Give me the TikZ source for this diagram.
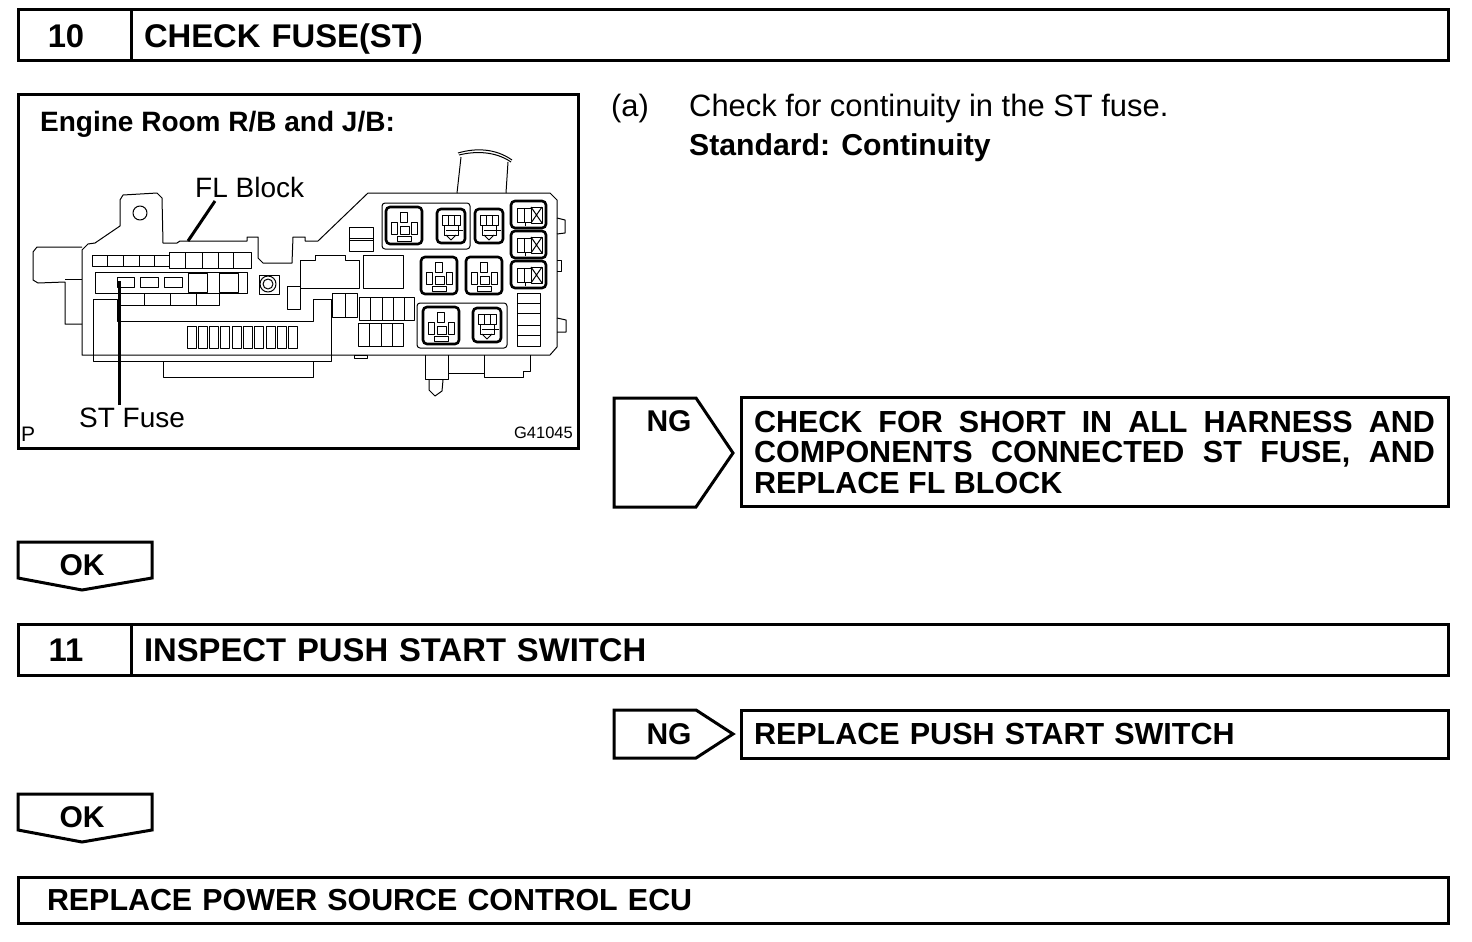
\documentclass[tikz,border=0pt]{standalone}
\usepackage{fontspec}
\setmainfont{Liberation Sans}
\usetikzlibrary{positioning, calc}

\begin{document}
\begin{tikzpicture}[
  x=1pt, y=-1pt,
  hdbox/.style={draw, line width=3pt, minimum height=51pt, inner ysep=0pt, text height=24pt, text depth=0pt, font=\fontsize{32.8}{35}\selectfont\bfseries},
  titlebox/.style={hdbox, inner xsep=13pt, text width=1291pt, align=left},
  actbox/.style={draw, line width=3pt, inner xsep=13pt, inner ysep=0pt, text width=681pt, font=\fontsize{30.5}{30.5}\selectfont\bfseries},
  tagtext/.style={font=\fontsize{30}{32}\selectfont\bfseries},
  tagline/.style={line width=3pt, line join=miter},
  bodytext/.style={anchor=west, inner sep=0pt, font=\fontsize{30.9}{33}\selectfont},
  boldtext/.style={anchor=west, inner sep=0pt, font=\fontsize{30.2}{33}\selectfont\bfseries},
  figlabel/.style={anchor=west, inner sep=0pt, font=\fontsize{28}{30}\selectfont},
  part/.style={line width=1pt, line join=round},
  relay/.style={line width=2.6pt, rounded corners=4pt},
  leader/.style={line width=3pt}
]
  \useasboundingbox (0,0) rectangle (1472,942);

  \node[hdbox, minimum width=113pt] (num10) at (74.5,35.5) {10\rule{17pt}{0pt}};
  \node[titlebox] (title10) at (789.5,35.5) {CHECK FUSE(ST)};

  \node[draw, line width=3pt, minimum width=560pt, minimum height=354pt] (figframe) at (298,271) {};
  \node[figlabel, font=\fontsize{28}{30}\selectfont\bfseries] (figtitle) at (40,124) {Engine Room R/B and J/B:};
  \node[figlabel] (flblock) at (195,187) {FL Block};
  \node[figlabel] (stfuse) at (79,418) {ST Fuse};
  \node[anchor=west, inner sep=0pt, font=\fontsize{21}{23}\selectfont] (figp) at (21,434) {P};
  \node[anchor=east, inner sep=0pt, font=\fontsize{16.5}{18}\selectfont] (figcode) at (573,433) {G41045};

  \draw[part] (82,355) -- (82,250) -- (88,244) -- (95,243) -- (120,226) -- (120,200) -- (123,195) -- (157,193) -- (162,198) -- (163,243) -- (177,243) -- (180,241) -- (247,241) -- (247,237) -- (258,237) -- (258,258) -- (263,263) -- (292,263) -- (293,237) -- (305,237) -- (305,241) -- (318,241) -- (368,193) -- (550,193) -- (557,200) -- (557,347) -- (550,355) -- (90,355) -- cycle;
  \draw[part] (140,213) circle (7);
  \draw[part] (82,247) -- (37,247) -- (33,252) -- (33,280) -- (38,283) -- (65,282) -- (65,324) -- (82,324);
  \draw[part] (65,279) -- (82,279);
  \draw[part] (117,299) -- (93,299) -- (93,361) -- (331,361) -- (331,299) -- (313,299) -- (313,321) -- (117,321) -- cycle;
  \draw[part] (163,361) -- (163,377) -- (313,377) -- (313,361);
  \draw[part] (458,153) .. controls (475,148) and (495,148) .. (512,160);
  \draw[part] (459,155) .. controls (475,151) and (495,151) .. (511,162);
  \draw[part] (461,157) -- (457,193) (508,162) -- (506,193);
  \draw[part] (557,218) -- (565,220) -- (565,233) -- (557,234);
  \draw[part] (557,260) -- (561,260) -- (561,271) -- (557,271);
  \draw[part] (557,318) -- (566,320) -- (566,332) -- (557,332);
  \draw[part] (425,355) -- (425,379) -- (448,379) -- (448,355);
  \draw[part] (429,380) -- (429,390) -- (435,396) -- (442,391) -- (443,380);
  \draw[part] (448,373) -- (484,373) (484,355) -- (484,377) -- (523,377) -- (523,371) -- (530,371) -- (530,355);
  \draw[part] (354,355) rectangle (367,358);

  \draw[part] (300,260) -- (315,260) -- (315,255) -- (345,255) -- (345,260) -- (359,260) -- (359,288) -- (300,288) -- cycle;
  \draw[part] (169,252) rectangle (251,268);
  \draw[part] (92,255) rectangle (169,266);
  \draw[part] (95,272) rectangle (247,293);
  \draw[part] (120,293) rectangle (219,305);
  \foreach \xa in {107,123,139,154} \draw[part] (\xa,255) -- (\xa,266);
  \foreach \xa in {185,202,218,233} \draw[part] (\xa,252) -- (\xa,268);
  \foreach \xa in {144,170,196} \draw[part] (\xa,293) -- (\xa,305);
  \foreach \xa/\xb in {117/134,140/158,164/182} \draw[part] (\xa,277) rectangle (\xb,287);
  \draw[part] (188,273) rectangle (207,292);
  \draw[part] (219,273) rectangle (238,292);
  \draw[part] (259,275) rectangle (279,294);
  \draw[part] (268,284) circle (8);
  \draw[part] (268,284) circle (5);
  \draw[part] (287,286) rectangle (300,309);
  \foreach \xa in {0,...,9} \draw[part] (187+11.3*\xa,326) rectangle (196+11.3*\xa,348);

  \draw[part] (349,227) rectangle (373,251);
  \draw[part] (349,238) -- (373,238) (349,240) -- (373,240);
  \draw[part] (363,255) rectangle (403,288);
  \draw[part] (332,293) rectangle (357,317);
  \draw[part] (345,293) -- (345,317);
  \draw[part] (359,297) rectangle (414,320);
  \foreach \xa in {370,382,393,404} \draw[part] (\xa,297) -- (\xa,320);
  \draw[part] (358,323) rectangle (403,346);
  \foreach \xa in {369,381,392} \draw[part] (\xa,323) -- (\xa,346);
  \draw[part] (517,293) rectangle (540,346);
  \foreach \ya in {303,313,325,335} \draw[part] (517,\ya) -- (540,\ya);
  \draw[part, rounded corners=3pt] (382,203) rectangle (470,249);
  \draw[part, rounded corners=3pt] (417,303) rectangle (507,348);

  % square relays
  \foreach \xa/\ya in {386/207,421/257,466/257,423/307} {
    \draw[relay] (\xa,\ya) rectangle (\xa+36,\ya+37);
    \draw[part] (\xa+14,\ya+5) rectangle (\xa+21,\ya+15);
    \draw[part] (\xa+5,\ya+15) rectangle (\xa+11,\ya+27);
    \draw[part] (\xa+25,\ya+15) rectangle (\xa+31,\ya+27);
    \draw[part] (\xa+14,\ya+19) rectangle (\xa+23,\ya+27);
    \draw[part] (\xa+11,\ya+29) rectangle (\xa+25,\ya+34);
  }
  % narrow relays
  \foreach \xa/\ya in {437/209,475/209,473/308} {
    \draw[relay] (\xa,\ya) rectangle (\xa+28,\ya+34);
    \draw[part] (\xa+5,\ya+6) rectangle (\xa+23,\ya+16);
    \draw[part] (\xa+11,\ya+6) -- (\xa+11,\ya+16) (\xa+17,\ya+6) -- (\xa+17,\ya+16);
    \draw[part] (\xa+7,\ya+16) -- (\xa+7,\ya+26) -- (\xa+21,\ya+26) -- (\xa+21,\ya+16);
    \draw[part] (\xa+9,\ya+21) -- (\xa+26,\ya+21);
    \draw[part] (\xa+9,\ya+26) -- (\xa+14,\ya+31) -- (\xa+19,\ya+26);
  }
  % side relays
  \foreach \xa/\ya in {511/201,511/231,511/261} {
    \draw[relay] (\xa,\ya) rectangle (\xa+35,\ya+27);
    \draw[part] (\xa+6,\ya+7) rectangle (\xa+20,\ya+21);
    \draw[part] (\xa+13,\ya+7) -- (\xa+13,\ya+21);
    \draw[part] (\xa+20,\ya+6) rectangle (\xa+31,\ya+22);
    \draw[part] (\xa+20,\ya+6) -- (\xa+31,\ya+22) (\xa+31,\ya+6) -- (\xa+20,\ya+22);
    \draw[part] (\xa+14,\ya+21) -- (\xa+14,\ya+25);
  }

  \coordinate (flblockend) at (188,241);
  \coordinate (flblockstart) at (215,201);
  \coordinate (stfuseend) at (119,281);
  \coordinate (stfusestart) at (119,405);
  \draw[leader] (flblockstart) -- (flblockend);
  \draw[leader] (stfusestart) -- (stfuseend);

  \node[bodytext] (stepa) at (611,109) {(a)};
  \node[bodytext] (stepatext) at (689,109) {Check for continuity in the ST fuse.};
  \node[boldtext] (stepastd) at (689,148) {Standard: Continuity};

  \draw[tagline] (614,398) -- (696,398) -- (733,453) -- (696,507) -- (614,507) -- cycle;
  \node[tagtext] (ngone) at (669,421) {NG};
  \node[actbox, minimum height=109pt, align=justify] (fixone) at (1094.5,452) {CHECK FOR SHORT IN ALL HARNESS AND\linebreak COMPONENTS CONNECTED ST FUSE, AND\linebreak REPLACE FL BLOCK};

  \draw[tagline] (18,542) -- (152,542) -- (152,578) -- (82,590) -- (18,578) -- cycle;
  \node[tagtext] (okone) at (82,565) {OK};

  \node[hdbox, minimum width=113pt] (num11) at (74.5,649.5) {11\rule{17pt}{0pt}};
  \node[titlebox] (title11) at (789.5,649.5) {INSPECT PUSH START SWITCH};

  \draw[tagline] (614,710) -- (696,710) -- (733,734) -- (696,758) -- (614,758) -- cycle;
  \node[tagtext] (ngtwo) at (669,734) {NG};
  \node[actbox, minimum height=48pt, align=left] (fixtwo) at (1094.5,734) {REPLACE PUSH START SWITCH};

  \draw[tagline] (18,794) -- (152,794) -- (152,830) -- (82,842) -- (18,830) -- cycle;
  \node[tagtext] (oktwo) at (82,817) {OK};

  \node[hdbox, minimum width=1430pt, minimum height=46pt, inner xsep=29pt, text width=1372pt, text height=21pt, align=left, font=\fontsize{30.4}{32}\selectfont\bfseries] (lastbox) at (733,900) {REPLACE POWER SOURCE CONTROL ECU};
\end{tikzpicture}
\end{document}
